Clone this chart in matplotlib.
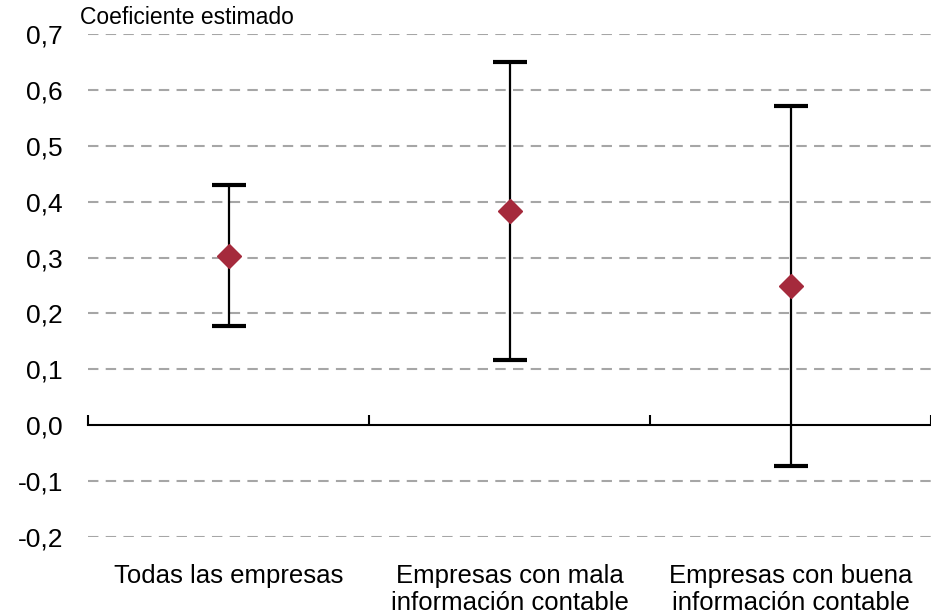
import matplotlib
matplotlib.use("Agg")
import matplotlib.pyplot as plt
import matplotlib.transforms as mtransforms
import numpy as np

plt.rcParams['font.family'] = ['Liberation Sans', 'DejaVu Sans']

# Estimated coefficients with confidence bounds
categories = ["Todas las empresas",
              "Empresas con mala\ninformación contable",
              "Empresas con buena\ninformación contable"]
coef = [0.303, 0.383, 0.250]
lower = [0.177, 0.116, -0.073]
upper = [0.430, 0.650, 0.572]
yticks = [-0.2, -0.1, 0.0, 0.1, 0.2, 0.3, 0.4, 0.5, 0.6, 0.7]

fig = plt.figure(figsize=(9.31, 6.15), dpi=100)
ax = fig.add_axes([88 / 931, 1 - 537 / 615, 843 / 931, (537 - 34) / 615])

x = np.arange(len(categories)) + 0.5
coef = np.array(coef)
err = [coef - np.array(lower), np.array(upper) - coef]

# dashed gridlines (zero is drawn as the axis line)
for yv in yticks:
    if abs(yv) > 1e-9:
        ax.axhline(yv, color="#a6a6a6", lw=1.5, ls=(0, (5, 3.5)), zorder=0)

ax.errorbar(x, coef, yerr=err, fmt="none", ecolor="black", elinewidth=1.6,
            capsize=12, capthick=3, zorder=2)
ax.plot(x, coef, ls="none", marker="D", ms=12, color="#a52a3c", zorder=3)

ax.set_xlim(0, 3)
ax.set_ylim(-0.2, 0.7)

for s in ["top", "right", "left"]:
    ax.spines[s].set_visible(False)
ax.spines["bottom"].set_position(("data", 0))
ax.spines["bottom"].set_linewidth(1.5)
ax.set_xticks([0, 1, 2, 3])
ax.tick_params(axis="x", direction="in", length=7, width=1.5, labelbottom=False)

ax.set_yticks(yticks)
ax.set_yticklabels([f"{v:.1f}".replace(".", ",").replace("-0,0", "0,0") for v in yticks])
ax.tick_params(axis="y", length=0, pad=18, labelsize=19)

# category labels under the plot area
trans = mtransforms.blended_transform_factory(ax.transData, fig.transFigure)
for xi, lab in zip(x, categories):
    ax.text(xi, 1 - 564 / 615, lab, transform=trans, ha="center", va="top",
            fontsize=18.5, linespacing=1.15)

fig.text(80 / 931, 1 - 17 / 615, "Coeficiente estimado", ha="left", va="center",
         fontsize=16.5)

fig.savefig("out.png", dpi=100)
